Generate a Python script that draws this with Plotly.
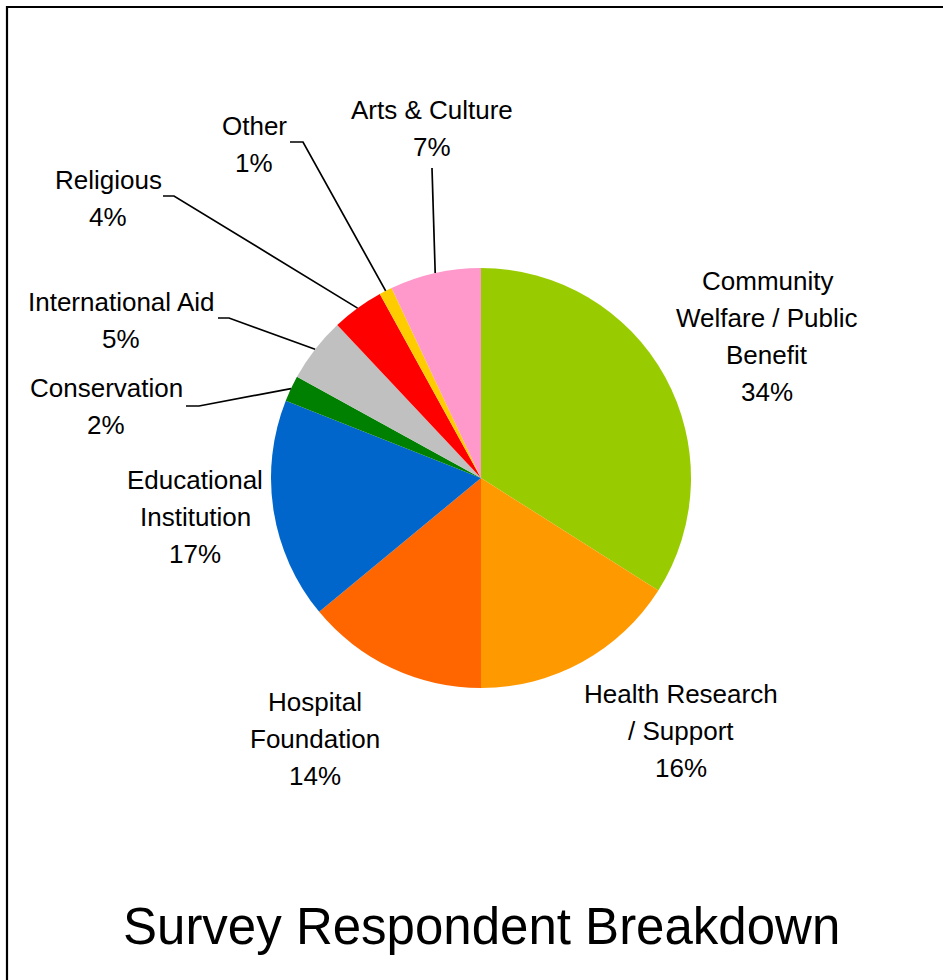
import math
import plotly.graph_objects as go

# ---- data -------------------------------------------------------------
categories = [
    "Community Welfare / Public Benefit",
    "Health Research / Support",
    "Hospital Foundation",
    "Educational Institution",
    "Conservation",
    "International Aid",
    "Religious",
    "Other",
    "Arts & Culture",
]
shares = [34, 16, 14, 17, 2, 5, 4, 1, 7]
label_lines = [
    ["Community", "Welfare / Public", "Benefit"],
    ["Health Research", "/ Support"],
    ["Hospital", "Foundation"],
    ["Educational", "Institution"],
    ["Conservation"],
    ["International Aid"],
    ["Religious"],
    ["Other"],
    ["Arts & Culture"],
]
slice_colors = ["#99CC00", "#FF9900", "#FF6600", "#0066CC", "#008000",
                "#C0C0C0", "#FF0000", "#FFCC00", "#FF99CC"]
title_text = "Survey Respondent Breakdown"

# ---- layout (pixels, origin top-left) --------------------------------
W, H = 943, 980
CX, CY, R = 481, 478, 210
FONT = "Liberation Sans, Arial, Helvetica, sans-serif"
LABEL_SIZE = 26
LINE_STEP = 37

# centre of the first text line of each label
label_pos = [(767, 281), (681, 694), (315, 702), (195, 480), (106, 388),
             (121, 302), (108, 180), (254, 126), (432, 110)]
# leader-line points running from the label towards its slice
leader_pts = {
    4: [(186, 406), (199, 406)],
    5: [(218, 318), (229, 318)],
    6: [(163, 196), (174, 196)],
    7: [(290, 142), (303, 142)],
    8: [(432, 168)],
}


def px(x):
    return x / W


def py(y):
    return 1 - y / H


fig = go.Figure(go.Pie(
    labels=categories,
    values=shares,
    sort=False,
    direction="clockwise",
    rotation=0,
    marker=dict(colors=slice_colors, line=dict(width=0)),
    textinfo="none",
    hoverinfo="label+percent",
    showlegend=False,
    domain=dict(x=[px(CX - R), px(CX + R)], y=[py(CY + R), py(CY - R)]),
))

annotations = []
shapes = []
total = sum(shares)
cum = 0
for i, (v, lines) in enumerate(zip(shares, label_lines)):
    mid = (cum + v / 2) / total * 2 * math.pi
    cum += v
    lx, ly = label_pos[i]
    for k, txt in enumerate(lines + [f"{v}%"]):
        annotations.append(dict(
            x=px(lx), y=py(ly + k * LINE_STEP), xref="paper", yref="paper",
            text=txt, showarrow=False, xanchor="center", yanchor="middle",
            font=dict(family=FONT, size=LABEL_SIZE, color="#000000"),
        ))
    if i in leader_pts:
        edge = (CX + R * math.sin(mid), CY - R * math.cos(mid))
        pts = leader_pts[i] + [edge]
        path = "M " + " L ".join(f"{px(x):.5f},{py(y):.5f}" for x, y in pts)
        shapes.append(dict(type="path", path=path, xref="paper", yref="paper",
                           line=dict(color="#000000", width=1.7)))

annotations.append(dict(
    x=px(481), y=py(926), xref="paper", yref="paper", text=title_text,
    showarrow=False, xanchor="center", yanchor="middle",
    font=dict(family=FONT, size=51, color="#000000"),
))

# outer frame (right and bottom edges fall outside the page)
shapes.append(dict(type="rect", xref="paper", yref="paper",
                   x0=px(7), x1=px(W + 20), y0=py(H + 20), y1=py(7),
                   line=dict(color="#000000", width=2.2)))

fig.update_layout(
    width=W, height=H,
    margin=dict(l=0, r=0, t=0, b=0),
    paper_bgcolor="#FFFFFF",
    plot_bgcolor="#FFFFFF",
    annotations=annotations,
    shapes=shapes,
)

fig.write_html("out.html")
